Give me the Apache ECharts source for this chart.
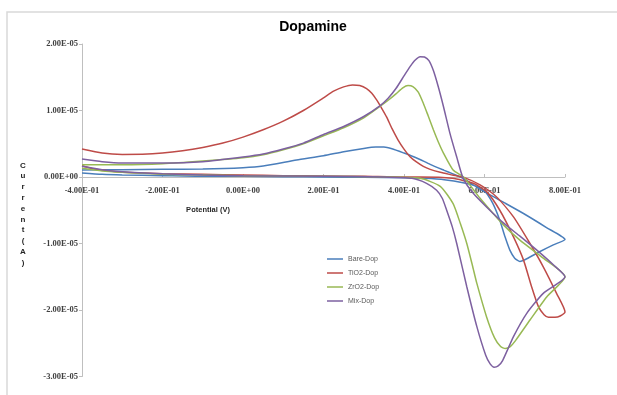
<!DOCTYPE html>
<html><head><meta charset="utf-8">
<script src="https://cdn.jsdelivr.net/npm/echarts@6/dist/echarts.min.js"></script>
<style>html,body{margin:0;padding:0;background:#fff}#c{width:617px;height:395px}</style>
</head><body><div id="c"></div>
<script>
const seriesNames = ['Bare-Dop', 'TiO2-Dop', 'ZrO2-Dop', 'Mix-Dop'];
const seriesColors = ['#4A7EBB', '#BE4B48', '#98B954', '#7D60A0'];
const xTickLabels = ['-4.00E-01', '-2.00E-01', '0.00E+00', '2.00E-01', '4.00E-01', '6.00E-01', '8.00E-01'];
const yTickLabels = ['-3.00E-05', '-2.00E-05', '-1.00E-05', '0.00E+00', '1.00E-05', '2.00E-05'];

// [potential (V), current (A)] in scan order: forward (lower) branch then reverse (upper) branch
const bareDop = [
  [-0.4, 6e-7], [-0.35, 4e-7], [-0.3, 3e-7], [-0.2, 2e-7], [-0.1, 1e-7], [0, 1e-7], [0.1, 5e-8], [0.2, 0],
  [0.3, -5e-8], [0.4, -1e-7], [0.45, -2e-7], [0.5, -4e-7], [0.55, -9e-7], [0.58, -1.4e-6], [0.6, -2.1e-6],
  [0.62, -3.9e-6], [0.638, -6.5e-6], [0.651, -9e-6], [0.663, -1.1e-5], [0.675, -1.22e-5], [0.688, -1.27e-5],
  [0.705, -1.23e-5], [0.738, -1.12e-5], [0.771, -1.02e-5], [0.8, -9.4e-6],
  [0.754, -7.6e-6], [0.7, -5.6e-6], [0.65, -3.9e-6], [0.605, -2.4e-6], [0.575, -1.3e-6], [0.55, -3e-7],
  [0.52, 5e-7], [0.5, 1e-6], [0.465, 1.9e-6], [0.43, 2.9e-6], [0.4, 3.6e-6], [0.37, 4.25e-6], [0.35, 4.5e-6],
  [0.33, 4.5e-6], [0.3, 4.3e-6], [0.25, 3.8e-6], [0.2, 3.2e-6], [0.133, 2.56e-6], [0.05, 1.65e-6], [0, 1.4e-6],
  [-0.1, 1.2e-6], [-0.2, 1.15e-6], [-0.3, 1.1e-6], [-0.4, 1.05e-6]
];
const tio2Dop = [
  [-0.4, 1.7e-6], [-0.37, 1.2e-6], [-0.33, 9e-7], [-0.3, 7e-7], [-0.2, 5e-7], [-0.1, 4e-7], [0, 3e-7],
  [0.1, 2e-7], [0.2, 1.5e-7], [0.3, 1e-7], [0.4, 0], [0.44, 0], [0.52, -2e-7], [0.572, -9.5e-7],
  [0.605, -2.2e-6], [0.638, -5e-6], [0.672, -9e-6], [0.697, -1.25e-5], [0.717, -1.65e-5], [0.734, -1.95e-5],
  [0.748, -2.07e-5], [0.759, -2.11e-5], [0.775, -2.11e-5], [0.788, -2.09e-5], [0.8, -2.03e-5],
  [0.779, -1.75e-5], [0.746, -1.35e-5], [0.713, -1e-5], [0.672, -6e-6], [0.63, -3e-6], [0.589, -1.2e-6],
  [0.55, -1e-7], [0.52, 3e-7], [0.49, 7e-7], [0.465, 1.15e-6], [0.448, 1.6e-6], [0.43, 2.3e-6],
  [0.415, 3.05e-6], [0.4, 4.2e-6], [0.385, 5.6e-6], [0.37, 7.3e-6], [0.357, 9e-6], [0.345, 1.03e-5],
  [0.332, 1.16e-5], [0.32, 1.26e-5], [0.307, 1.33e-5], [0.29, 1.375e-5], [0.272, 1.385e-5], [0.25, 1.355e-5],
  [0.225, 1.29e-5], [0.2, 1.19e-5], [0.15, 1.0e-5], [0.1, 8.4e-6], [0.05, 7.1e-6], [0, 6e-6],
  [-0.05, 5.1e-6], [-0.1, 4.45e-6], [-0.15, 3.95e-6], [-0.2, 3.6e-6], [-0.25, 3.42e-6], [-0.3, 3.4e-6],
  [-0.35, 3.6e-6], [-0.4, 4.2e-6]
];
const zro2Dop = [
  [-0.4, 1.3e-6], [-0.35, 9e-7], [-0.3, 7e-7], [-0.2, 4e-7], [-0.1, 3e-7], [0, 2e-7], [0.2, 1e-7], [0.35, 0],
  [0.44, -2e-7], [0.49, -1.4e-6], [0.522, -4e-6], [0.54, -7e-6], [0.556, -1e-5], [0.57, -1.33e-5],
  [0.581, -1.6e-5], [0.605, -2.1e-5], [0.625, -2.42e-5], [0.64, -2.55e-5], [0.652, -2.58e-5],
  [0.664, -2.55e-5], [0.677, -2.46e-5], [0.713, -2.15e-5], [0.755, -1.8e-5], [0.8, -1.5e-5],
  [0.746, -1.22e-5], [0.688, -9.5e-6], [0.647, -7.2e-6], [0.589, -3.2e-6], [0.565, -1.3e-6], [0.548, 0],
  [0.522, 1.05e-6], [0.498, 3.6e-6], [0.485, 5.3e-6], [0.473, 7.1e-6], [0.46, 9.2e-6], [0.448, 1.11e-5],
  [0.435, 1.28e-5], [0.422, 1.36e-5], [0.41, 1.375e-5], [0.397, 1.34e-5], [0.38, 1.25e-5], [0.36, 1.15e-5],
  [0.34, 1.06e-5], [0.3, 8.9e-6], [0.25, 7.4e-6], [0.2, 6.2e-6], [0.15, 5.0e-6], [0.1, 4.1e-6], [0.05, 3.35e-6],
  [0, 2.9e-6], [-0.1, 2.4e-6], [-0.2, 2e-6], [-0.3, 1.85e-6], [-0.4, 1.85e-6]
];
const mixDop = [
  [-0.4, 1.6e-6], [-0.35, 1.1e-6], [-0.3, 8e-7], [-0.2, 5e-7], [-0.1, 3e-7], [0, 2e-7], [0.2, 1e-7], [0.35, 0],
  [0.42, -2e-7], [0.456, -9.5e-7], [0.481, -2e-6], [0.495, -3.2e-6], [0.506, -5e-6], [0.52, -7.5e-6],
  [0.531, -1e-5], [0.556, -1.65e-5], [0.581, -2.25e-5], [0.603, -2.68e-5], [0.614, -2.81e-5], [0.624, -2.86e-5],
  [0.634, -2.84e-5], [0.645, -2.76e-5], [0.672, -2.4e-5], [0.705, -2.05e-5], [0.746, -1.75e-5], [0.8, -1.5e-5],
  [0.771, -1.32e-5], [0.73, -1.1e-5], [0.688, -8.9e-6], [0.647, -6.9e-6], [0.605, -4.5e-6], [0.572, -2.45e-6],
  [0.547, -2e-7], [0.531, 3e-6], [0.514, 6.6e-6], [0.498, 1.06e-5], [0.485, 1.36e-5], [0.473, 1.6e-5],
  [0.462, 1.75e-5], [0.451, 1.805e-5], [0.44, 1.81e-5], [0.428, 1.76e-5], [0.415, 1.66e-5], [0.4, 1.52e-5],
  [0.38, 1.33e-5], [0.36, 1.18e-5], [0.34, 1.07e-5], [0.3, 9.1e-6], [0.25, 7.6e-6], [0.2, 6.4e-6],
  [0.15, 5.1e-6], [0.1, 4.2e-6], [0.05, 3.45e-6], [0, 3e-6], [-0.1, 2.3e-6], [-0.2, 2.1e-6], [-0.3, 2.1e-6],
  [-0.35, 2.3e-6], [-0.4, 2.7e-6]
];
const allSeries = [bareDop, tio2Dop, zro2Dop, mixDop];

const X_MIN = -0.4, X_MAX = 0.8, X_INT = 0.2;
const Y_MIN = -3e-5, Y_MAX = 2e-5, Y_INT = 1e-5;

const chart = echarts.init(document.getElementById('c'), null, {renderer: 'canvas'});
const labelFont = {fontFamily: 'Liberation Serif', fontSize: 8.5, fontWeight: 'bold', color: '#404040'};

chart.setOption({
  animation: false,
  backgroundColor: '#fff',
  grid: {left: 82, right: 52, top: 44, bottom: 18.5, containLabel: false},
  legend: {
    data: seriesNames, orient: 'vertical', left: 322, top: 250,
    icon: 'rect', itemWidth: 16, itemHeight: 1.5, itemGap: 6,
    textStyle: {fontFamily: 'Liberation Sans', fontSize: 7, color: '#595959', lineHeight: 8}
  },
  xAxis: {
    type: 'value', min: X_MIN, max: X_MAX, interval: X_INT,
    axisLine: {onZero: true, lineStyle: {color: '#bfbfbf', width: 1}},
    axisTick: {show: true, inside: true, length: 3, lineStyle: {color: '#bfbfbf'}},
    splitLine: {show: false},
    axisLabel: Object.assign({margin: -190.5, showMinLabel: true, showMaxLabel: true,
      formatter: v => xTickLabels[Math.round((v - X_MIN) / X_INT)]}, labelFont)
  },
  yAxis: {
    type: 'value', min: Y_MIN, max: Y_MAX, interval: Y_INT,
    axisLine: {show: true, onZero: false, lineStyle: {color: '#bfbfbf', width: 1}},
    axisTick: {show: true, length: 3, lineStyle: {color: '#bfbfbf'}},
    splitLine: {show: false},
    axisLabel: Object.assign({margin: 4,
      formatter: v => yTickLabels[Math.round((v - Y_MIN) / Y_INT)]}, labelFont)
  },
  graphic: [
    {type: 'rect', shape: {x: 7, y: 12, width: 640, height: 420}, style: {fill: 'none', stroke: '#d9d9d9', lineWidth: 1.5}, silent: true},
    {type: 'text', x: 313, y: 27, style: {text: 'Dopamine', fontFamily: 'Liberation Sans', fontSize: 14, fontWeight: 'bold', fill: '#000', align: 'center', verticalAlign: 'middle'}},
    {type: 'text', x: 208, y: 210, style: {text: 'Potential (V)', fontFamily: 'Liberation Sans', fontSize: 7.5, fontWeight: 'bold', fill: '#262626', align: 'center', verticalAlign: 'middle'}},
    {type: 'text', x: 23, y: 160, style: {text: 'C\nu\nr\nr\ne\nn\nt\n(\nA\n)', fontFamily: 'Liberation Sans', fontSize: 8, fontWeight: 'bold', lineHeight: 10.8, fill: '#262626', align: 'center', verticalAlign: 'top'}}
  ],
  series: allSeries.map((d, i) => ({
    name: seriesNames[i], type: 'line', data: d, showSymbol: false, smooth: 0.2,
    lineStyle: {color: seriesColors[i], width: 1.5}, itemStyle: {color: seriesColors[i]}, z: 2 + i
  }))
});
</script></body></html>
